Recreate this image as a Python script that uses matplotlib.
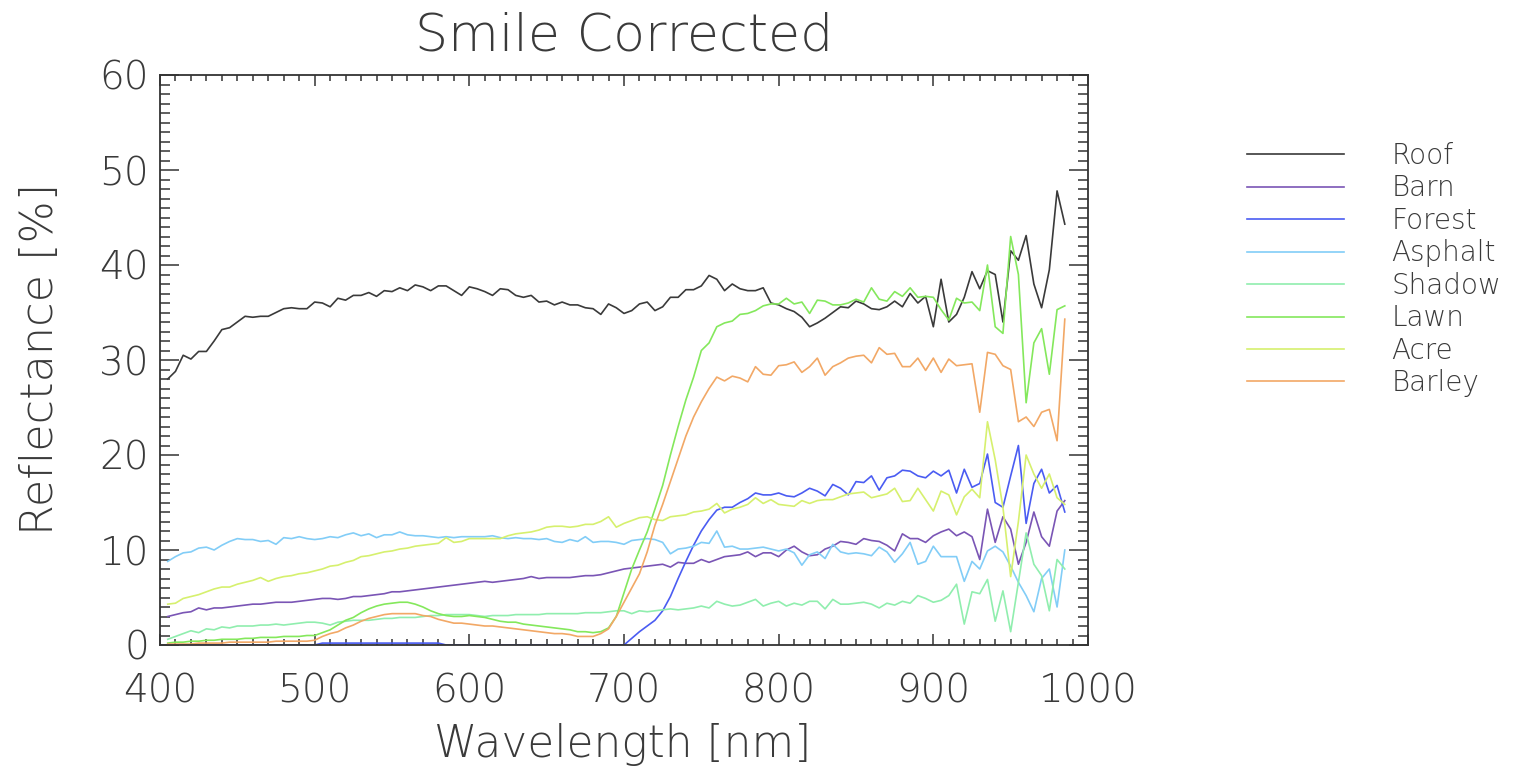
import numpy as np
import matplotlib
matplotlib.use("Agg")
import matplotlib.pyplot as plt
from matplotlib.ticker import MultipleLocator

# ---------------- data ----------------
wavelength = np.arange(405, 990, 5)  # nm, 117 samples

roof = [
    28.0, 28.8, 30.5, 30.1, 30.9, 30.9, 32.0, 33.2, 33.4, 34.0,
    34.6, 34.5, 34.6, 34.6, 35.0, 35.4, 35.5, 35.4, 35.4, 36.1,
    36.0, 35.6, 36.5, 36.3, 36.8, 36.8, 37.1, 36.7, 37.3, 37.2,
    37.6, 37.3, 37.9, 37.7, 37.3, 37.8, 37.8, 37.3, 36.8, 37.7,
    37.5, 37.2, 36.8, 37.5, 37.4, 36.8, 36.6, 36.8, 36.1, 36.2,
    35.8, 36.1, 35.8, 35.8, 35.5, 35.4, 34.8, 35.9, 35.5, 34.9,
    35.2, 35.9, 36.1, 35.2, 35.6, 36.6, 36.6, 37.4, 37.4, 37.8,
    38.9, 38.5, 37.3, 38.0, 37.5, 37.3, 37.3, 37.6, 36.0, 35.8,
    35.4, 35.1, 34.5, 33.5, 33.9, 34.4, 35.0, 35.6, 35.5, 36.2,
    35.9, 35.4, 35.3, 35.6, 36.2, 35.6, 37.0, 36.0, 36.7, 33.5,
    38.5, 34.0, 34.8, 36.6, 39.3, 37.5, 39.4, 39.0, 34.0, 41.5,
    40.5, 43.1, 38.0, 35.5, 39.5, 47.8, 44.3]

barn = [
    3.0, 3.2, 3.4, 3.5, 3.9, 3.7, 3.9, 3.9, 4.0, 4.1,
    4.2, 4.3, 4.3, 4.4, 4.5, 4.5, 4.5, 4.6, 4.7, 4.8,
    4.9, 4.9, 4.8, 4.9, 5.1, 5.1, 5.2, 5.3, 5.4, 5.6,
    5.6, 5.7, 5.8, 5.9, 6.0, 6.1, 6.2, 6.3, 6.4, 6.5,
    6.6, 6.7, 6.6, 6.7, 6.8, 6.9, 7.0, 7.2, 7.0, 7.1,
    7.1, 7.1, 7.1, 7.2, 7.3, 7.3, 7.4, 7.6, 7.8, 8.0,
    8.1, 8.2, 8.3, 8.4, 8.5, 8.2, 8.7, 8.6, 8.6, 9.0,
    8.7, 9.0, 9.3, 9.4, 9.5, 9.8, 9.3, 9.7, 9.7, 9.3,
    10.0, 10.4, 9.8, 9.4, 9.5, 10.1, 10.4, 10.9, 10.8, 10.6,
    11.2, 11.0, 10.9, 10.5, 9.9, 11.7, 11.2, 11.2, 10.8, 11.5,
    11.9, 12.2, 11.5, 11.9, 11.4, 9.0, 14.3, 10.8, 13.5, 12.2,
    8.5, 10.8, 14.0, 11.4, 10.4, 14.1, 15.2]

forest = [
    0.0, 0.0, 0.0, 0.0, 0.0, 0.0, 0.0, 0.0, 0.0, 0.0,
    0.0, 0.0, 0.0, 0.0, 0.0, 0.0, 0.0, 0.0, 0.0, 0.0,
    0.2, 0.2, 0.2, 0.2, 0.2, 0.2, 0.2, 0.2, 0.2, 0.2,
    0.2, 0.2, 0.2, 0.2, 0.2, 0.2, 0.0, 0.0, 0.0, 0.0,
    0.0, 0.0, 0.0, 0.0, 0.0, 0.0, 0.0, 0.0, 0.0, 0.0,
    0.0, 0.0, 0.0, 0.0, 0.0, 0.0, 0.0, 0.0, 0.0, 0.0,
    0.7, 1.4, 2.0, 2.6, 3.6, 5.1, 7.0, 8.8, 10.5, 12.0,
    13.2, 14.2, 14.5, 14.5, 15.0, 15.4, 16.0, 15.8, 15.8, 16.0,
    15.7, 15.6, 16.0, 16.5, 16.2, 15.7, 16.9, 16.5, 15.8, 17.2,
    17.1, 17.8, 16.3, 17.6, 17.8, 18.4, 18.3, 17.8, 17.6, 18.3,
    17.8, 18.4, 16.0, 18.5, 16.6, 17.0, 20.1, 15.0, 14.5, 17.8,
    21.0, 12.8, 17.0, 18.5, 16.0, 16.8, 14.0]

asphalt = [
    8.8, 9.3, 9.7, 9.8, 10.2, 10.3, 10.0, 10.5, 10.9, 11.2,
    11.1, 11.1, 10.9, 11.0, 10.6, 11.3, 11.2, 11.4, 11.2, 11.1,
    11.2, 11.4, 11.3, 11.6, 11.8, 11.5, 11.7, 11.3, 11.6, 11.6,
    11.9, 11.6, 11.5, 11.5, 11.4, 11.3, 11.4, 11.3, 11.4, 11.4,
    11.4, 11.4, 11.5, 11.3, 11.2, 11.3, 11.2, 11.2, 11.1, 11.2,
    10.9, 10.8, 11.1, 10.9, 11.4, 10.8, 10.9, 10.9, 10.8, 10.6,
    11.0, 11.1, 11.2, 11.1, 10.8, 9.6, 10.1, 10.2, 10.4, 10.8,
    10.7, 12.0, 10.3, 10.4, 10.1, 10.1, 10.2, 10.3, 10.1, 9.9,
    10.1, 9.7, 8.4, 9.5, 9.8, 9.1, 10.6, 9.8, 9.6, 9.7,
    9.6, 9.4, 10.3, 9.8, 8.7, 9.6, 10.8, 8.5, 8.8, 10.4,
    9.3, 9.3, 9.3, 6.7, 8.8, 8.0, 9.9, 10.4, 9.8, 8.3,
    6.6, 5.2, 3.5, 7.0, 8.0, 4.0, 10.0]

shadow = [
    0.6, 0.9, 1.2, 1.5, 1.3, 1.7, 1.6, 1.9, 1.8, 2.0,
    2.0, 2.0, 2.1, 2.1, 2.2, 2.1, 2.2, 2.3, 2.4, 2.4,
    2.3, 2.1, 2.4, 2.5, 2.6, 2.6, 2.6, 2.7, 2.8, 2.8,
    2.9, 2.9, 2.9, 3.0, 3.1, 3.1, 3.2, 3.2, 3.2, 3.2,
    3.1, 3.0, 3.1, 3.1, 3.1, 3.2, 3.2, 3.2, 3.2, 3.3,
    3.3, 3.3, 3.3, 3.3, 3.4, 3.4, 3.4, 3.5, 3.6, 3.6,
    3.3, 3.6, 3.5, 3.6, 3.7, 3.8, 3.7, 3.8, 3.9, 4.1,
    3.9, 4.6, 4.3, 4.1, 4.2, 4.5, 4.8, 4.1, 4.4, 4.6,
    4.1, 4.4, 4.2, 4.6, 4.6, 3.8, 4.8, 4.3, 4.3, 4.4,
    4.5, 4.3, 3.9, 4.4, 4.2, 4.6, 4.4, 5.2, 4.9, 4.5,
    4.7, 5.2, 6.4, 2.2, 5.6, 5.4, 6.9, 2.5, 5.7, 1.4,
    6.6, 11.8, 8.5, 7.3, 3.6, 9.0, 8.0]

lawn = [
    0.2, 0.3, 0.3, 0.4, 0.4, 0.5, 0.5, 0.6, 0.6, 0.6,
    0.7, 0.7, 0.8, 0.8, 0.8, 0.9, 0.9, 0.9, 1.0, 1.0,
    1.3, 1.6, 2.1, 2.6, 2.9, 3.4, 3.8, 4.1, 4.3, 4.4,
    4.5, 4.5, 4.3, 4.0, 3.6, 3.3, 3.1, 3.0, 3.0, 3.1,
    3.0, 2.9, 2.7, 2.5, 2.4, 2.4, 2.2, 2.1, 2.0, 1.9,
    1.8, 1.7, 1.6, 1.4, 1.4, 1.3, 1.4, 1.8, 3.0, 5.5,
    8.0, 10.0, 11.9, 14.3, 16.8, 20.0, 23.0, 25.8, 28.2, 31.0,
    31.8, 33.5, 33.9, 34.1, 34.8, 34.9, 35.2, 35.7, 35.9, 35.9,
    36.5, 35.9, 36.1, 34.9, 36.3, 36.2, 35.8, 35.8, 36.0, 36.4,
    36.1, 37.6, 36.4, 36.2, 37.2, 36.7, 37.6, 36.6, 36.7, 36.6,
    35.3, 34.2, 36.5, 36.0, 36.1, 35.2, 40.0, 33.5, 32.8, 43.0,
    39.0, 25.5, 31.8, 33.3, 28.5, 35.3, 35.7]

acre = [
    4.3, 4.4, 4.9, 5.1, 5.3, 5.6, 5.9, 6.1, 6.1, 6.4,
    6.6, 6.8, 7.1, 6.7, 7.0, 7.2, 7.3, 7.5, 7.6, 7.8,
    8.0, 8.3, 8.4, 8.7, 8.9, 9.3, 9.4, 9.6, 9.8, 9.9,
    10.1, 10.2, 10.4, 10.5, 10.6, 10.7, 11.3, 10.8, 10.9, 11.2,
    11.2, 11.2, 11.2, 11.2, 11.5, 11.7, 11.8, 11.9, 12.1, 12.4,
    12.5, 12.5, 12.4, 12.5, 12.7, 12.7, 13.0, 13.5, 12.4, 12.8,
    13.1, 13.4, 13.5, 13.2, 13.1, 13.5, 13.6, 13.7, 14.0, 14.1,
    14.3, 14.9, 13.9, 14.3, 14.5, 14.8, 15.5, 14.9, 15.3, 14.8,
    14.7, 14.6, 15.2, 14.9, 15.2, 15.3, 15.3, 15.6, 15.9, 16.0,
    16.1, 15.5, 15.7, 15.9, 16.5, 15.1, 15.2, 16.5, 15.3, 14.1,
    16.2, 15.8, 13.7, 15.6, 16.4, 15.5, 23.5, 19.5, 14.5, 7.2,
    13.0, 20.0, 18.0, 16.5, 18.0, 15.5, 14.8]

barley = [
    0.1, 0.1, 0.1, 0.1, 0.2, 0.2, 0.2, 0.2, 0.3, 0.3,
    0.3, 0.3, 0.3, 0.3, 0.4, 0.4, 0.4, 0.4, 0.4, 0.5,
    0.9, 1.2, 1.4, 1.8, 2.1, 2.5, 2.8, 3.0, 3.2, 3.3,
    3.3, 3.3, 3.3, 3.1, 3.0, 2.7, 2.5, 2.3, 2.3, 2.2,
    2.1, 2.0, 2.0, 1.9, 1.8, 1.7, 1.6, 1.5, 1.4, 1.3,
    1.2, 1.2, 1.1, 0.9, 0.9, 0.9, 1.2, 1.7, 3.0, 4.5,
    6.0, 7.5, 9.8, 12.6, 14.8, 17.2, 19.6, 22.0, 24.0, 25.6,
    27.0, 28.2, 27.8, 28.3, 28.1, 27.7, 29.3, 28.5, 28.4, 29.4,
    29.5, 29.8, 28.7, 29.3, 30.2, 28.4, 29.3, 29.7, 30.2, 30.4,
    30.5, 29.7, 31.3, 30.6, 30.7, 29.3, 29.3, 30.2, 28.9, 30.2,
    28.7, 30.1, 29.4, 29.5, 29.6, 24.5, 30.8, 30.6, 29.4, 29.0,
    23.5, 24.0, 23.0, 24.5, 24.8, 21.5, 34.3]

labels = ["Roof", "Barn", "Forest", "Asphalt", "Shadow", "Lawn", "Acre", "Barley"]
series = [roof, barn, forest, asphalt, shadow, lawn, acre, barley]
colors = ["#3a3a3a", "#7a55b5", "#4a5cf2", "#82cdf7", "#90eeae",
          "#84e85c", "#d6f06e", "#f2a866"]

x_ticks = [400, 500, 600, 700, 800, 900, 1000]
y_ticks = [0, 10, 20, 30, 40, 50, 60]

# ---------------- figure ----------------
W, H = 1533, 772
plt.rcParams['font.family'] = ['DejaVu Sans']
plt.rcParams['font.weight'] = 200
txt = "#3a3a3a"

fig = plt.figure(figsize=(W / 100, H / 100), dpi=100)
ax = fig.add_axes([160 / W, 1 - 645 / H, (1088 - 160) / W, (645 - 75) / H])

for vals, lab, col in zip(series, labels, colors):
    ax.plot(wavelength, vals, color=col, lw=1.2, label=lab)

ax.set_xlim(400, 1000)
ax.set_ylim(0, 60)
ax.set_xticks(x_ticks)
ax.set_yticks(y_ticks)
ax.xaxis.set_minor_locator(MultipleLocator(10))
ax.yaxis.set_minor_locator(MultipleLocator(1))

for s in ax.spines.values():
    s.set_color("#333333")
    s.set_linewidth(1.3)

ax.tick_params(axis='both', which='both', direction='in', top=True, right=True,
               colors="#333333", width=1.1)
ax.tick_params(axis='x', which='major', length=8, pad=20)
ax.tick_params(axis='x', which='minor', length=4.3)
ax.tick_params(axis='y', which='major', length=13.5, pad=8)
ax.tick_params(axis='y', which='minor', length=7)
ax.tick_params(axis='both', which='major', labelsize=28, labelcolor=txt)

fig.text(624 / W, 1 - 36 / H, "Smile Corrected", ha='center', va='center',
         fontsize=37.5, color=txt)
fig.text(623 / W, 1 - 745 / H, "Wavelength [nm]", ha='center', va='center',
         fontsize=31.5, color=txt)
fig.text(41 / W, 1 - 359 / H, "Reflectance [%]", ha='center', va='center',
         rotation=90, fontsize=32, color=txt)

leg = fig.legend(loc='upper left', bbox_to_anchor=(1247 / W, 1 - 142 / H),
                 frameon=False, fontsize=20, handlelength=3.5, handletextpad=1.7,
                 labelspacing=0.16, borderpad=0, borderaxespad=0)
for t in leg.get_texts():
    t.set_color(txt)

fig.savefig("out.png", dpi=100)
